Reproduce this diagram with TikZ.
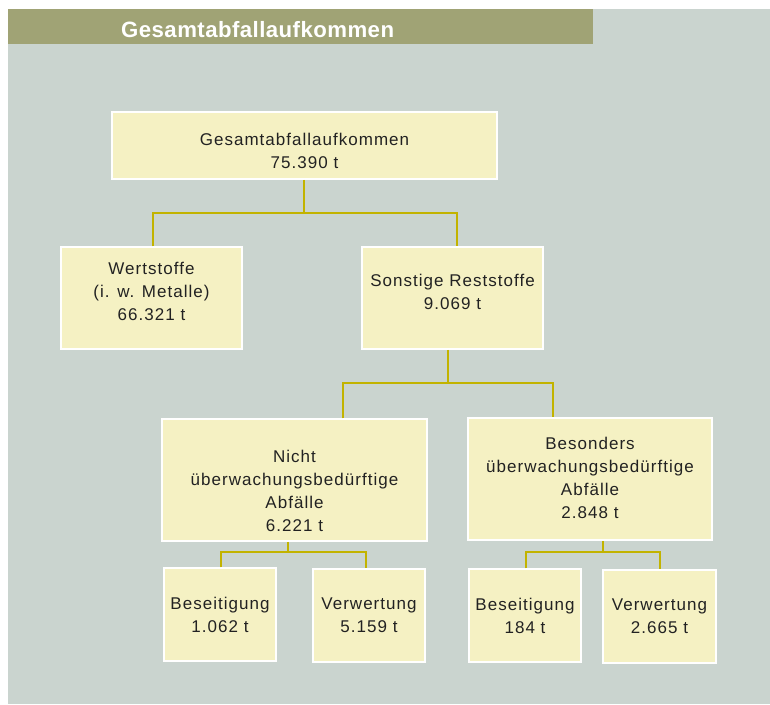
\documentclass[tikz,border=0pt]{standalone}
\usepackage{fontspec}
\setmainfont{Liberation Sans}[LetterSpace=6]
\newfontfamily\headfont{Liberation Sans}[LetterSpace=2]
\usetikzlibrary{calc}

\definecolor{bgcol}{HTML}{CAD4CF}
\definecolor{bandcol}{HTML}{A0A375}
\definecolor{boxcol}{HTML}{F5F1C3}
\definecolor{conncol}{HTML}{C2B300}
\definecolor{txtcol}{HTML}{222222}

\tikzset{
  box/.style={draw=white, fill=boxcol, line width=1.5pt, inner sep=0pt},
  txt/.style={align=center, text=txtcol, inner sep=0pt,
              font=\fontsize{17}{23}\selectfont},
  conn/.style={draw=conncol, line width=2pt},
}

\begin{document}
\begin{tikzpicture}[x=1pt, y=-1pt]
\useasboundingbox (0,0) rectangle (770,704);
\fill[white] (0,0) rectangle (770,704);
\fill[bgcol] (8,9) rectangle (770,704); %background
\fill[bandcol] (8,9) rectangle (593,44); %title band
\node[anchor=west, text=white, inner sep=0pt, font=\headfont\bfseries\fontsize{22.2}{24}\selectfont] (title) at (121,29.5) {Gesamtabfallaufkommen};

% boxes
\node[box, minimum width=385pt, minimum height=67pt]  (top)    at (304.5,145.5) {};
\node[box, minimum width=181pt, minimum height=102pt] (wert)   at (151.5,298) {};
\node[box, minimum width=181pt, minimum height=102pt] (sonst)  at (452.5,298) {};
\node[box, minimum width=265pt, minimum height=122pt] (nicht)  at (294.5,480) {};
\node[box, minimum width=244pt, minimum height=122pt] (besond) at (590,479) {};
\node[box, minimum width=112pt, minimum height=93pt]  (bes1)   at (220,614.5) {};
\node[box, minimum width=112pt, minimum height=93pt]  (ver1)   at (369,615.5) {};
\node[box, minimum width=112pt, minimum height=93pt]  (bes2)   at (525,615.5) {};
\node[box, minimum width=113pt, minimum height=93pt]  (ver2)   at (659.5,616.5) {};

% texts
\node[txt] (top-t)    at ([yshift=-5.5pt]top.center)   {Gesamtabfallaufkommen\\75.390 t};
\node[txt] (wert-t)   at ([yshift=6.5pt]wert.center)   {Wertstoffe\\(i. w. Metalle)\\66.321 t};
\node[txt] (sonst-t)  at ([yshift=6.5pt]sonst.center)  {Sonstige Reststoffe\\9.069 t};
\node[txt] (nicht-t)  at ([yshift=-10.5pt]nicht.center) {Nicht\\überwachungsbedürftige\\Abfälle\\6.221 t};
\node[txt] (besond-t) at ([yshift=1pt]besond.center)   {Besonders\\überwachungsbedürftige\\Abfälle\\2.848 t};
\node[txt] (bes1-t)   at (bes1.center) {Beseitigung\\1.062 t};
\node[txt] (ver1-t)   at (ver1.center) {Verwertung\\5.159 t};
\node[txt] (bes2-t)   at (bes2.center) {Beseitigung\\184 t};
\node[txt] (ver2-t)   at (ver2.center) {Verwertung\\2.665 t};

% connectors
\coordinate (j1) at (304,213);
\coordinate (j2) at (448,383);
\coordinate (j3) at (288,552);
\coordinate (j4) at (603,552);

\draw[conn] ([xshift=-0.5pt]top.south) -- (j1);
\draw[conn] ([xshift=1.5pt]wert.north) |- (j1) -| ([xshift=4.5pt]sonst.north);

\draw[conn] ([xshift=-4.5pt]sonst.south) -- (j2);
\draw[conn] ([xshift=48.5pt]nicht.north) |- (j2) -| ([xshift=-37pt]besond.north);

\draw[conn] ([xshift=-6.5pt]nicht.south) -- (j3);
\draw[conn] ([xshift=1pt]bes1.north) |- (j3) -| ([xshift=-3pt]ver1.north);

\draw[conn] ([xshift=13pt]besond.south) -- (j4);
\draw[conn] ([xshift=1pt]bes2.north) |- (j4) -| ([xshift=0.5pt]ver2.north);
\end{tikzpicture}
\end{document}
